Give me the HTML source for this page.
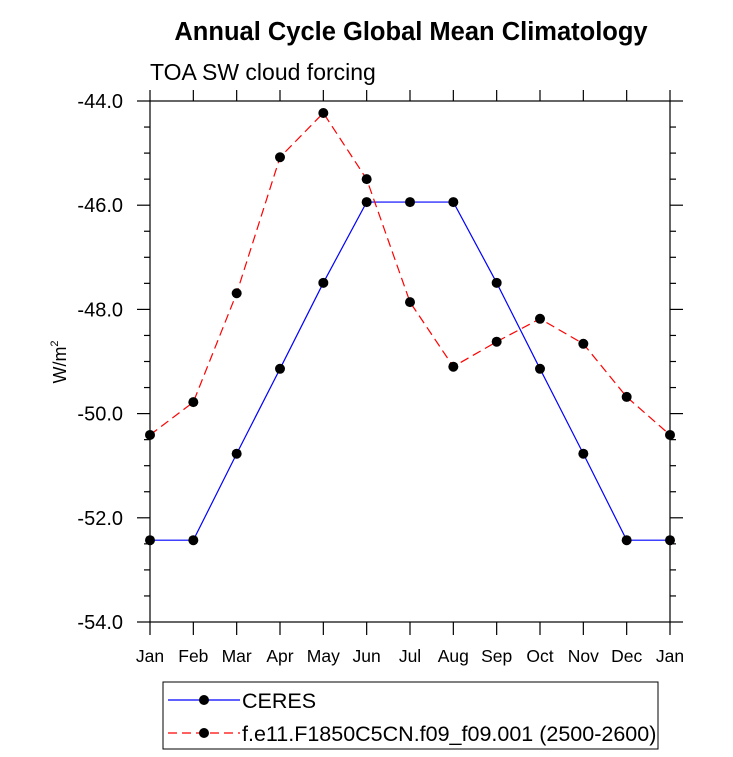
<!DOCTYPE html>
<html><head><meta charset="utf-8"><style>
html,body{margin:0;padding:0;background:#fff}
svg{display:block;font-family:"Liberation Sans",sans-serif}
</style></head><body>
<svg id="chart" width="733" height="757">
<text x="411" y="40" text-anchor="middle" font-size="25.5" font-weight="bold">Annual Cycle Global Mean Climatology</text>
<text x="150" y="80" font-size="23">TOA SW cloud forcing</text>
<text transform="translate(66,362) rotate(-90)" text-anchor="middle" font-size="18">W/m<tspan font-size="11" dy="-8">2</tspan></text>
<g id="axes"></g>
<g id="series"></g>
<rect x="163" y="682" width="495" height="67" fill="none" stroke="#000" stroke-width="1"/>
<g>
<line x1="168" y1="700" x2="240" y2="700" stroke="#0000ff" stroke-width="1.2"/>
<circle cx="204" cy="700" r="5" fill="#000"/>
<text x="242" y="708" font-size="21.5">CERES</text></g>
<g>
<line x1="168" y1="733" x2="240" y2="733" stroke="#ff0000" stroke-width="1.2" stroke-dasharray="9,5"/>
<circle cx="204" cy="733" r="5" fill="#000"/>
<text x="242" y="741" font-size="21.5">f.e11.F1850C5CN.f09_f09.001 (2500-2600)</text></g>
</svg>
<script>
const months=["Jan","Feb","Mar","Apr","May","Jun","Jul","Aug","Sep","Oct","Nov","Dec","Jan"];
const ceres=[-52.43,-52.43,-50.77,-49.14,-47.49,-45.94,-45.94,-45.94,-47.49,-49.14,-50.77,-52.43,-52.43];
const model=[-50.41,-49.78,-47.69,-45.08,-44.23,-45.5,-47.86,-49.1,-48.62,-48.18,-48.66,-49.68,-50.41];
const yTicks=[-44,-46,-48,-50,-52,-54];
const yTickLabels=["-44.0","-46.0","-48.0","-50.0","-52.0","-54.0"];
const X0=150,X1=670,Y0=101,Y1=622,YMAX=-44,YMIN=-54;
const NS="http://www.w3.org/2000/svg";
const xs=i=>X0+(X1-X0)*i/(months.length-1);
const ys=v=>Y0+(YMAX-v)/(YMAX-YMIN)*(Y1-Y0);
function mk(t,a,p){const e=document.createElementNS(NS,t);for(const k in a)e.setAttribute(k,a[k]);p.appendChild(e);return e;}
const ax=document.getElementById('axes');
const fr=mk('rect',{x:X0,y:Y0,width:X1-X0,height:Y1-Y0,fill:'none',stroke:'#000','stroke-width':1.2},ax);


for(let v=YMAX;v>=YMIN-1e-9;v-=0.5){
  const y=ys(v);const maj=Math.abs(v%2)<1e-9;const L=maj?13:6;
  mk('line',{x1:X0-L,y1:y,x2:X0,y2:y,stroke:'#000','stroke-width':1.2},ax);
  mk('line',{x1:X1,y1:y,x2:X1+L,y2:y,stroke:'#000','stroke-width':1.2},ax);
}
yTicks.forEach((v,i)=>{
  const t=mk('text',{x:123,y:ys(v)+7,'text-anchor':'end','font-size':20},ax);
  t.textContent=yTickLabels[i];
  
  
});
months.forEach((m,i)=>{
  const x=xs(i);
  mk('line',{x1:x,y1:Y1,x2:x,y2:Y1+13,stroke:'#000','stroke-width':1.2},ax);
  mk('line',{x1:x,y1:Y0-11,x2:x,y2:Y0,stroke:'#000','stroke-width':1.2},ax);
  const t=mk('text',{x:x,y:662,'text-anchor':'middle','font-size':17.5},ax);
  t.textContent=m;
  
  
});
const sg=document.getElementById('series');
function series(vals,color,dash,name){
  const g=mk('g',{},sg);
  
  
  mk('polyline',{points:vals.map((v,i)=>xs(i)+','+ys(v)).join(' '),fill:'none',stroke:color,'stroke-width':1.2,'stroke-dasharray':dash},g);
  vals.forEach((v,i)=>{
    const c=mk('circle',{cx:xs(i),cy:ys(v),r:5,fill:'#000'},g);
    
    
  });
}
series(ceres,'#0000ff','none','ceres-series');
series(model,'#ff0000','9,5','model-series');
</script>
</body></html>
